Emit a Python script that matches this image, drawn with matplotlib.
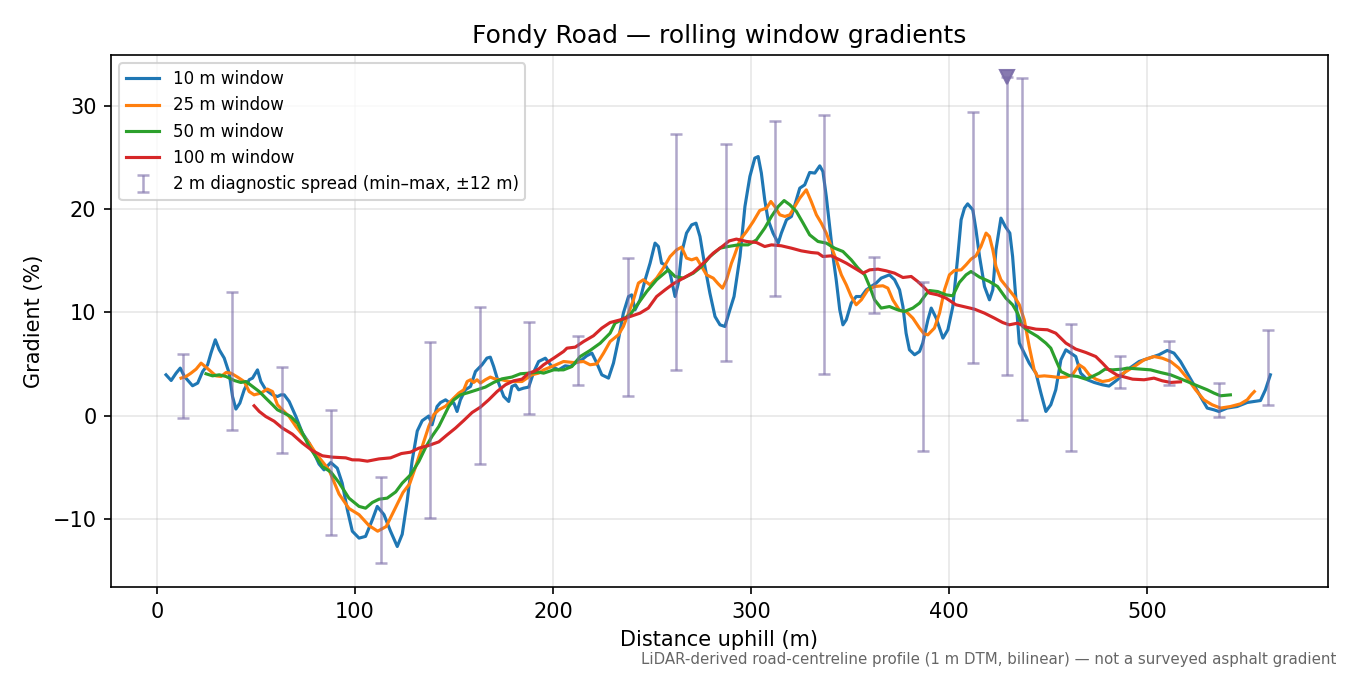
import matplotlib
matplotlib.use("Agg")
import matplotlib.pyplot as plt
import numpy as np

# ---- data ----
blue_x = [4.6, 7.2, 9.7, 11.8, 13.9, 18.0, 20.6, 23.1, 25.6, 27.3, 29.5, 31.5, 34.0, 36.5, 38.2, 39.9, 41.9, 44.1,
          46.6, 48.3, 50.8, 52.5, 55.0, 58.4, 60.9, 62.6, 64.3, 66.8, 70.2, 73.5, 76.9, 79.4, 81.9, 84.4, 87.8,
          91.1, 93.6, 96.2, 98.7, 102.1, 105.4, 108.8, 111.3, 114.7, 118.0, 121.4, 123.9, 126.4, 128.9, 131.5,
          134.0, 137.3, 139.0, 141.5, 143.2, 145.8, 148.0, 150.0, 151.6, 153.3, 155.8, 158.4, 160.9, 164.2,
          166.7, 168.4, 170.1, 172.6, 175.2, 177.7, 179.3, 181.1, 182.7, 185.2, 187.8, 190.3, 192.8, 196.2,
          199.5, 202.9, 206.2, 208.8, 211.3, 214.6, 217.1, 219.7, 222.2, 224.7, 228.1, 230.6, 233.1, 235.6,
          238.2, 239.8, 241.5, 244.0, 246.6, 249.1, 251.6, 253.3, 254.9, 256.7, 259.2, 261.7, 263.4, 265.0,
          267.5, 270.1, 272.3, 274.3, 276.8, 279.3, 281.9, 284.4, 286.9, 289.4, 291.5, 294.5, 297.0, 299.5,
          302.0, 303.7, 305.3, 307.0, 308.7, 311.2, 313.8, 315.4, 318.0, 320.5, 323.0, 324.7, 327.2, 329.7,
          332.3, 334.8, 336.4, 338.1, 339.8, 341.5, 343.1, 344.9, 346.5, 348.2, 350.7, 353.2, 355.8, 358.3,
          360.8, 363.3, 365.8, 370.0, 372.6, 375.1, 376.8, 378.4, 380.1, 382.7, 385.2, 386.8, 389.4, 391.1,
          393.6, 397.0, 399.5, 402.0, 404.5, 406.2, 407.9, 409.5, 412.1, 413.7, 415.5, 418.0, 420.5, 422.2,
          423.8, 426.3, 428.5, 430.8, 432.2, 433.9, 435.6, 438.1, 440.6, 444.0, 446.5, 449.0, 451.5, 454.0,
          456.6, 459.1, 461.6, 464.1, 466.6, 470.0, 473.4, 477.6, 480.9, 485.1, 490.1, 496.1, 501.1, 506.1,
          510.3, 513.7, 517.0, 520.4, 523.8, 527.1, 530.5, 533.9, 536.4, 540.6, 545.6, 550.7, 557.4, 559.9, 562.4]
blue_y = [3.94, 3.39, 4.1, 4.59, 3.78, 2.88, 3.14, 4.26, 4.9, 6.04, 7.33, 6.36, 5.56, 4.1, 1.84, 0.62, 1.2, 2.49,
          3.46, 3.62, 4.42, 3.29, 2.49, 2.0, 1.84, 2.0, 2.0, 1.36, -0.1, -1.7, -2.67, -3.64, -4.7, -5.26, -4.55,
          -5.1, -6.55, -9.13, -11.2, -11.87, -11.7, -10.1, -8.8, -9.6, -11.2, -12.68, -11.5, -8.3, -4.4, -1.5,
          -0.5, -0.05, -0.9, 0.87, 1.25, 1.52, 1.2, 1.2, 0.39, 1.52, 2.49, 2.81, 4.26, 4.91,
          5.56, 5.65, 4.74, 3.14, 1.84, 1.36, 2.81, 2.97, 2.49, 2.65, 2.75, 4.2, 5.23, 5.55,
          4.74, 4.42, 4.81, 4.74, 5.07, 5.39, 5.78, 6.04, 5.07, 3.94, 3.62, 5.07, 7.33, 9.91,
          11.52, 11.68, 10.23, 11.2, 13.14, 14.75, 16.69, 16.36, 14.75, 14.59, 13.78, 11.52, 12.82, 15.72,
          17.66, 18.46, 18.62, 17.33, 14.42, 11.85, 9.58, 8.78, 8.62, 10.23, 11.52, 15.39, 20.23, 23.14,
          24.92, 25.07, 23.47, 20.88, 18.95, 17.66, 16.69, 17.66, 18.95, 19.27, 20.88, 22.01, 22.33, 23.53,
          23.47, 24.17, 23.62, 21.2, 18.3, 15.39, 13.14, 10.23, 8.78, 9.27, 10.88, 11.52, 11.52, 12.17,
          12.49, 12.82, 13.3, 13.62, 13.14, 12.17, 10.55, 7.97, 6.36, 5.88, 6.2, 7.0, 9.26, 10.4,
          9.43, 7.49, 8.3, 10.55, 15.39, 18.95, 20.08, 20.49, 19.91, 17.98, 15.39, 12.49, 11.2, 12.17,
          16.04, 19.11, 18.3, 17.66, 15.39, 11.2, 7.01, 6.04, 5.07, 4.1, 2.17, 0.39, 1.04, 2.49,
          5.39, 6.36, 6.04, 5.71, 4.1, 3.46, 3.2, 2.97, 2.85, 3.46, 4.42, 5.23, 5.55, 5.88,
          6.3, 6.04, 5.23, 4.1, 2.97, 1.84, 0.72, 0.55, 0.39, 0.72, 0.87, 1.26, 1.45, 2.49, 3.94]

orange_x = [12.2, 14.7, 17.2, 19.8, 22.3, 24.8, 27.3, 29.8, 32.4, 34.9, 37.4, 40.7, 44.1, 46.6, 49.1, 52.5, 55.8,
            58.4, 60.9, 63.4, 66.8, 70.2, 73.5, 76.9, 80.2, 86.9, 92.0, 97.0, 102.1, 107.1, 111.5, 115.8, 120.0,
            124.3, 127.7, 130.6, 134.0, 137.3, 139.9, 142.4, 145.8, 149.1, 152.5, 155.0, 156.7, 158.4, 160.0,
            161.7, 163.4, 165.9, 168.4, 171.0, 174.3, 177.7, 181.0, 184.4, 186.9, 189.4, 192.8, 195.3, 200.4,
            205.4, 210.4, 215.5, 218.8, 222.2, 225.6, 228.9, 233.1, 235.6, 238.2, 240.7, 243.2, 245.7, 249.1,
            252.4, 255.8, 259.2, 262.5, 265.0, 267.5, 270.1, 272.6, 275.1, 277.6, 281.0, 283.5, 285.7, 287.7,
            290.2, 291.5, 294.5, 297.8, 301.2, 304.5, 307.9, 310.1, 312.1, 314.6, 317.2, 319.7, 322.2, 324.7,
            328.0, 330.5, 333.1, 335.6, 338.1, 340.6, 343.1, 345.7, 348.2, 350.7, 353.2, 355.8, 359.1, 362.5,
            366.7, 369.2, 371.7, 375.1, 378.4, 381.8, 385.2, 387.5, 389.4, 392.7, 395.3, 397.8, 400.3, 402.8,
            406.2, 408.7, 411.2, 413.7, 416.2, 418.8, 420.5, 422.2, 423.8, 426.3, 429.7, 433.1, 435.6, 438.1,
            440.6, 443.1, 444.8, 448.2, 451.5, 455.7, 459.1, 462.4, 465.8, 468.3, 470.9, 474.2, 477.6, 480.9,
            486.5, 493.6, 498.6, 503.6, 507.8, 512.0, 516.2, 520.4, 524.6, 528.8, 533.0, 537.2, 542.2, 547.3,
            550.7, 552.7, 554.3]
orange_y = [3.62, 3.78, 4.1, 4.49, 5.07, 4.68, 4.26, 3.84, 3.78, 4.16, 4.1, 3.72, 3.29, 2.32, 2.0, 2.17, 2.56,
            2.32, 1.04, 0.55, -0.1, -1.06, -1.87, -2.67, -3.64, -5.26, -7.6, -9.0, -9.6, -10.65, -11.2, -10.75, -9.13,
            -7.45, -6.6, -5.0, -3.0, -1.06, 0.1, 0.55, 0.9, 1.52, 2.17, 2.49, 3.29, 3.46, 3.2,
            3.46, 3.14, 3.46, 3.72, 3.52, 3.46, 3.29, 3.29, 3.29, 3.62, 3.94, 4.1, 4.42, 4.81,
            5.23, 5.13, 5.23, 4.91, 5.0, 6.04, 7.16, 7.81, 8.62, 9.91, 11.2, 12.82, 13.14, 12.65,
            13.3, 14.27, 15.39, 16.04, 16.3, 15.24, 15.07, 15.24, 14.42, 13.62, 13.3, 12.75, 12.33, 13.14,
            14.75, 15.39, 17.0, 17.81, 18.78, 19.85, 20.08, 20.72, 20.23, 19.43, 19.27, 19.43, 20.23, 21.04,
            21.85, 20.72, 19.43, 18.62, 17.66, 16.36, 15.07, 13.62, 12.65, 11.52, 10.72, 11.2, 12.17, 12.49,
            12.56, 12.33, 11.2, 10.17, 10.07, 9.43, 8.46, 7.9, 7.81, 8.46, 9.91, 12.17, 13.62, 14.04,
            14.1, 14.59, 15.14, 15.46, 16.36, 17.66, 17.33, 16.04, 14.42, 13.14, 12.33, 11.52, 10.72, 9.26,
            6.68, 4.42, 3.78, 3.84, 3.78, 3.68, 3.72, 3.94, 4.91, 4.59, 3.94, 3.52, 3.29, 3.4,
            3.9, 4.74, 5.39, 5.71, 5.55, 5.23, 4.59, 3.62, 2.49, 1.52, 1.04, 0.72, 0.87, 1.13,
            1.52, 2.0, 2.32]

green_x = [24.8, 28.1, 31.5, 34.9, 39.1, 42.4, 45.0, 48.3, 51.7, 55.0, 58.4, 60.9, 64.3, 67.6, 71.0, 73.5, 76.9,
           80.2, 83.6, 88.0, 92.0, 97.0, 102.1, 105.4, 108.8, 112.2, 116.3, 120.6, 123.9, 128.1, 132.3, 135.7,
           139.0, 142.4, 144.9, 147.4, 150.0, 153.3, 157.5, 161.7, 165.9, 170.1, 174.3, 179.3, 183.6, 187.8,
           192.8, 195.3, 200.4, 205.4, 209.6, 213.8, 218.8, 223.9, 228.9, 231.4, 234.8, 239.0, 243.2, 247.4,
           252.4, 258.3, 261.7, 265.9, 270.9, 275.1, 279.3, 284.4, 288.5, 293.6, 298.6, 302.8, 307.0, 310.4,
           313.8, 316.8, 319.7, 323.0, 326.4, 329.7, 333.9, 338.1, 342.3, 346.5, 350.7, 354.1, 357.5, 360.0,
           362.5, 365.8, 370.0, 374.2, 377.6, 381.8, 385.2, 388.5, 390.2, 394.4, 398.6, 402.0, 405.3, 408.7,
           411.2, 415.5, 420.5, 424.6, 428.8, 432.2, 434.7, 437.3, 440.6, 444.8, 449.0, 451.5, 454.0, 456.6,
           460.8, 465.0, 469.2, 472.5, 475.9, 478.9, 482.6, 487.6, 490.1, 496.9, 501.9, 507.0, 512.0, 516.2,
           520.4, 525.5, 530.5, 533.9, 537.2, 542.2]
green_y = [4.04, 3.84, 3.94, 3.78, 3.39, 3.2, 3.29, 2.81, 2.32, 1.68, 1.04, 0.55, 0.23, -0.1, -0.74, -1.7, -3.0,
           -3.97, -4.94, -5.5, -6.5, -8.0, -8.8, -8.97, -8.42, -8.1, -8.0, -7.4, -6.55, -5.74, -4.45, -3.1,
           -2.0, -1.06, -0.1, 0.87, 1.52, 2.0, 2.23, 2.49, 2.75, 3.2, 3.55, 3.72, 4.04, 4.1,
           4.2, 4.1, 4.42, 4.42, 4.74, 5.71, 6.3, 7.0, 7.97, 8.94, 9.26, 9.75, 10.88, 12.0,
           13.14, 14.1, 13.46, 13.3, 13.78, 14.42, 15.39, 16.2, 16.36, 16.52, 16.52, 17.0, 18.14, 19.27,
           20.23, 20.81, 20.4, 19.75, 18.62, 17.49, 16.85, 16.69, 16.2, 15.88, 15.07, 14.27, 13.62, 12.49,
           11.2, 10.4, 10.55, 10.23, 10.07, 10.4, 10.88, 11.75, 12.1, 12.0, 11.68, 11.59, 12.88, 13.62,
           13.94, 13.4, 12.97, 12.49, 11.36, 10.72, 9.91, 8.62, 8.13, 7.65, 7.01, 6.52, 5.39, 4.26,
           3.87, 3.78, 3.52, 3.78, 4.1, 4.49, 4.42, 4.49, 4.59, 4.49, 4.42, 4.16, 3.94, 3.62,
           3.29, 2.88, 2.49, 2.17, 1.91, 2.0]

red_x = [49.1, 51.7, 55.0, 59.2, 63.4, 68.4, 73.5, 78.5, 83.6, 88.6, 95.4, 98.7, 102.1, 106.3, 112.2, 118.0,
         123.5, 128.1, 132.3, 137.3, 142.4, 146.6, 150.8, 155.0, 159.2, 163.4, 167.6, 171.8, 176.0, 180.2, 184.4,
         187.8, 190.3, 192.8, 195.3, 200.4, 205.4, 207.1, 211.3, 215.5, 220.5, 224.7, 228.9, 234.0, 239.0,
         244.0, 248.2, 252.4, 256.7, 260.8, 265.9, 270.9, 276.0, 281.0, 286.0, 289.0, 292.7, 297.8, 302.8,
         307.0, 310.4, 315.4, 320.5, 325.5, 330.5, 333.9, 336.4, 340.6, 344.9, 348.2, 352.4, 356.6, 360.0,
         364.2, 368.3, 372.6, 376.8, 381.0, 384.3, 387.5, 390.2, 394.4, 398.6, 403.6, 408.7, 412.9, 418.0,
         423.0, 427.2, 430.5, 434.7, 438.9, 444.0, 449.8, 454.0, 459.1, 464.1, 469.2, 474.2, 477.6, 480.9,
         485.1, 487.7, 492.8, 498.6, 503.6, 507.8, 512.0, 517.0]
red_y = [0.94, 0.39, -0.1, -0.55, -1.22, -1.8, -2.67, -3.4, -3.9, -4.03, -4.1, -4.29, -4.3, -4.42, -4.2, -4.1,
         -3.68, -3.55, -3.16, -2.9, -2.55, -1.87, -1.22, -0.48, 0.29, 0.81, 1.52, 2.32, 2.97, 3.36, 3.52,
         4.1, 4.26, 4.5, 4.91, 5.55, 6.2, 6.52, 6.62, 7.16, 7.72, 8.46, 9.0, 9.26, 9.58,
         9.91, 10.4, 11.52, 12.17, 12.75, 13.3, 13.85, 14.75, 15.72, 16.43, 16.9, 17.08, 16.85, 16.75,
         16.36, 16.52, 16.43, 16.2, 15.94, 15.78, 15.72, 15.39, 15.46, 15.07, 14.75, 14.27, 13.78, 14.1,
         14.17, 14.01, 13.78, 13.36, 13.46, 12.97, 12.4, 11.85, 11.68, 11.36, 10.72, 10.49, 10.3, 9.91,
         9.43, 9.0, 8.78, 8.94, 8.56, 8.36, 8.3, 7.97, 7.01, 6.43, 6.1, 5.71, 5.07, 4.4,
         3.9, 3.78, 3.52, 3.46, 3.62, 3.36, 3.2, 3.26]

spread_x = [13.4, 38.1, 63.3, 88.0, 113.2, 137.9, 163.1, 187.8, 212.5, 237.7, 262.4, 287.6, 312.3, 337.0,
            362.1, 386.8, 412.0, 429.2, 436.7, 461.9, 486.6, 511.3, 536.5, 561.2]
spread_min = [-0.26, -1.36, -3.66, -11.6, -14.27, -9.97, -4.7, 0.13, 2.94, 1.88, 4.40, 5.28, 11.58, 3.98,
              9.90, -3.47, 5.08, 3.91, -0.46, -3.47, 2.62, 2.94, -0.17, 1.0]
spread_max = [5.92, 11.97, 4.69, 0.49, -5.99, 7.12, 10.49, 9.06, 7.67, 15.24, 27.28, 26.31, 28.48, 29.1,
              15.34, 12.94, 29.35, 41.0, 32.72, 8.83, 5.76, 7.22, 3.14, 8.25]

y_limits = (-16.6, 34.9)
clip_marker_y = 32.8

# ---- plot ----
fig = plt.figure(figsize=(9, 4.5), dpi=150)
ax = fig.add_axes([0.0822, 0.1304, 0.9015, 0.7881])

ax.plot(blue_x, blue_y, color="tab:blue", lw=1.5, label="10 m window")
ax.plot(orange_x, orange_y, color="tab:orange", lw=1.5, label="25 m window")
ax.plot(green_x, green_y, color="tab:green", lw=1.5, label="50 m window")
ax.plot(red_x, red_y, color="tab:red", lw=1.5, label="100 m window")

sx = np.array(spread_x)
smin = np.array(spread_min)
smax = np.array(spread_max)
over = smax > clip_marker_y
shown_max = np.minimum(smax, clip_marker_y)
mid = (smin + shown_max) / 2
ax.errorbar(sx, mid, yerr=[mid - smin, shown_max - mid], fmt="none", ecolor="#7a6ca8", alpha=0.6,
            elinewidth=1.2, capsize=3, capthick=1.2, label="2 m diagnostic spread (min–max, ±12 m)")
ax.plot(sx[over], np.full(over.sum(), clip_marker_y), linestyle="none", marker="v",
        markersize=6.5, color="#7a6ca8", alpha=0.9, zorder=5)

ax.set_xlim(-23.2, 591.5)
ax.set_ylim(*y_limits)
ax.grid(True, alpha=0.3)
ax.set_title("Fondy Road — rolling window gradients", fontsize=12)
ax.set_xlabel("Distance uphill (m)")
ax.set_ylabel("Gradient (%)")
ax.legend(loc="upper left", fontsize=8)

fig.text(0.99, 0.012, "LiDAR-derived road-centreline profile (1 m DTM, bilinear) — not a surveyed asphalt gradient",
         ha="right", va="bottom", fontsize=7.2, color="#666666")

fig.savefig("out.png", dpi=150)
